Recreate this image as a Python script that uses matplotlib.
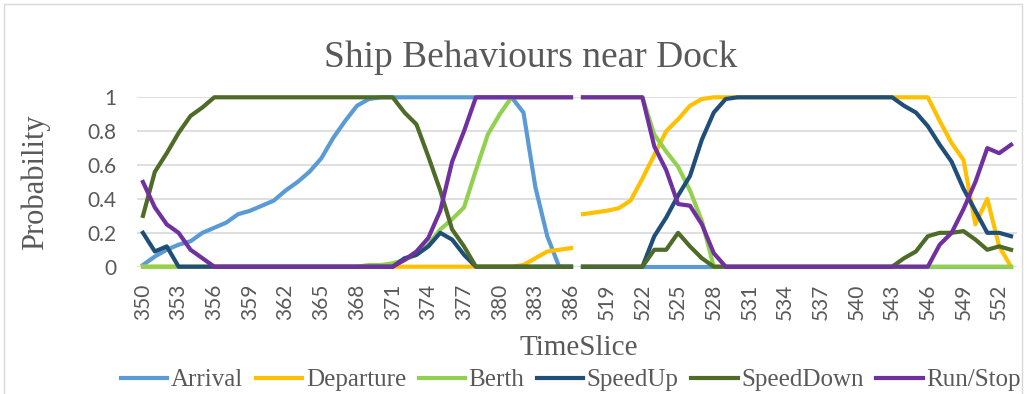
import matplotlib.pyplot as plt
from matplotlib.patches import Rectangle

# Time slices: two separate windows on one category axis
slices_a = list(range(350, 387))
slices_b = list(range(517, 554))

arrival_a = [0.01, 0.06, 0.10, 0.13, 0.15, 0.20, 0.23, 0.26, 0.31, 0.33, 0.36, 0.39, 0.45,
             0.50, 0.56, 0.64, 0.76, 0.86, 0.95, 0.99] + [1] * 12 + [0.91, 0.47, 0.18, 0, 0]
arrival_b = [0] * 37

departure_a = [0] * 32 + [0.01, 0.05, 0.09, 0.10, 0.11]
departure_b = [0.31, 0.32, 0.33, 0.345, 0.39, 0.52, 0.66, 0.80, 0.87, 0.95, 0.99] + [1] * 19 + \
              [0.86, 0.73, 0.63, 0.25, 0.40, 0.12, 0]

berth_a = [0] * 19 + [0.01, 0.01, 0.02, 0.04, 0.07, 0.13, 0.22, 0.28, 0.35, 0.57, 0.78, 0.90] + [1] * 6
berth_b = [1] * 6 + [0.78, 0.68, 0.59, 0.45, 0.27] + [0] * 26

speedup_a = [0.20, 0.09, 0.12, 0] + [0] * 18 + [0.05, 0.07, 0.12, 0.20, 0.16, 0.07] + [0] * 9
speedup_b = [0] * 6 + [0.18, 0.29, 0.42, 0.535, 0.75, 0.91, 0.99] + [1] * 14 + \
            [0.95, 0.91, 0.83, 0.72, 0.62, 0.46, 0.33, 0.20, 0.20, 0.18]

speeddown_a = [0.30, 0.56, 0.67, 0.79, 0.89, 0.94] + [1] * 16 + [0.91, 0.84, 0.65, 0.45, 0.22, 0.12] + [0] * 9
speeddown_b = [0] * 6 + [0.10, 0.10, 0.20, 0.12, 0.05] + [0] * 16 + \
              [0.05, 0.09, 0.18, 0.20, 0.20, 0.21, 0.16, 0.10, 0.12, 0.10]

runstop_a = [0.50, 0.35, 0.25, 0.20, 0.10, 0.05] + [0] * 16 + [0.04, 0.09, 0.17, 0.33, 0.62, 0.80] + [1] * 9
runstop_b = [1] * 6 + [0.71, 0.57, 0.37, 0.36, 0.25, 0.08] + [0] * 18 + [0.13, 0.20, 0.34, 0.50, 0.70, 0.67, 0.72]

series = [
    ("Arrival", "#5B9BD5", arrival_a, arrival_b),
    ("Departure", "#FFC000", departure_a, departure_b),
    ("Berth", "#92D050", berth_a, berth_b),
    ("SpeedUp", "#1F4E79", speedup_a, speedup_b),
    ("SpeedDown", "#4F6B28", speeddown_a, speeddown_b),
    ("Run/Stop", "#7030A0", runstop_a, runstop_b),
]

labels = [str(s) for s in slices_a + slices_b]
n_a = len(slices_a)
pos_a = list(range(n_a))
pos_b = list(range(n_a, n_a + len(slices_b)))

serif = "Liberation Serif"
sans = "Lato"
txt = "#595959"

fig = plt.figure(figsize=(10.27, 3.94), dpi=100)
ax = fig.add_axes([137 / 1027, 1 - 266.7 / 394, 880 / 1027, 169.4 / 394])

for name, color, ya, yb in series:
    ax.plot(pos_a, ya, color=color, lw=3, label=name, clip_on=False, solid_joinstyle="round")
    ax.plot(pos_b, yb, color=color, lw=3, clip_on=False, solid_joinstyle="round")

ax.set_xlim(-0.5, len(labels) - 0.5)
ax.set_ylim(0, 1)
ax.set_yticks([0, 0.2, 0.4, 0.6, 0.8, 1])
ax.set_yticklabels(["0", "0.2", "0.4", "0.6", "0.8", "1"], fontfamily=sans, fontsize=15, color=txt)
ticks = list(range(0, len(labels), 3))
ax.set_xticks(ticks)
ax.set_xticklabels([labels[i] for i in ticks], rotation=90, fontfamily=sans, fontsize=15, color=txt)
ax.tick_params(axis="both", length=0)
ax.tick_params(axis="y", pad=15)
ax.tick_params(axis="x", pad=12)
ax.grid(axis="y", color="#D9D9D9", lw=1.2)
ax.set_axisbelow(True)
for sp in ax.spines.values():
    sp.set_visible(False)

fig.text(531 / 1027, 1 - 58 / 394, "Ship Behaviours near Dock", ha="center", va="center",
         fontfamily=serif, fontsize=27, color=txt)
fig.text(35 / 1027, 1 - 182 / 394, "Probability", rotation=90, ha="center", va="center",
         fontfamily=serif, fontsize=22, color=txt)
fig.text(579 / 1027, 1 - 348 / 394, "TimeSlice", ha="center", va="center",
         fontfamily=serif, fontsize=21, color=txt)

leg = fig.legend(loc="center left", bbox_to_anchor=(121 / 1027, 1 - 380 / 394), ncol=6,
                 frameon=False, borderpad=0, borderaxespad=0, handlelength=1.85,
                 handletextpad=0.15, columnspacing=0.5, prop={"family": serif, "size": 18})
for t in leg.get_texts():
    t.set_color(txt)

fig.patches.append(Rectangle((4 / 1027, -0.1), 1018 / 1027, 1.1 - 4 / 394, transform=fig.transFigure,
                             fill=False, edgecolor="#D9D9D9", lw=1))

fig.savefig("out.png", dpi=100)
